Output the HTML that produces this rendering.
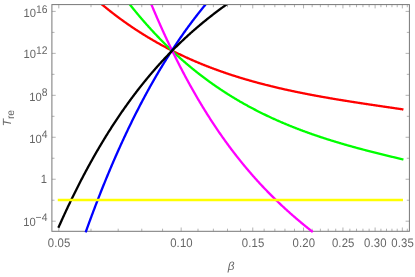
<!DOCTYPE html>
<html><head><meta charset="utf-8"><title>plot</title>
<style>html,body{margin:0;padding:0;background:#fff;}body{width:415px;height:277px;overflow:hidden;position:relative;font-family:"Liberation Sans",sans-serif;}</style>
</head><body>
<svg width="415" height="277" viewBox="0 0 415 277" style="position:absolute;left:0;top:0;will-change:transform">
<rect width="415" height="277" fill="#fff"/>
<path d="M58.80 231.3 v-3.8 M58.80 4.6 v3.8 M90.99 231.3 v-2.6 M90.99 4.6 v2.6 M118.20 231.3 v-2.6 M118.20 4.6 v2.6 M141.77 231.3 v-2.6 M141.77 4.6 v2.6 M162.57 231.3 v-2.6 M162.57 4.6 v2.6 M181.17 231.3 v-3.8 M181.17 4.6 v3.8 M197.99 231.3 v-2.6 M197.99 4.6 v2.6 M213.36 231.3 v-2.6 M213.36 4.6 v2.6 M227.49 231.3 v-2.6 M227.49 4.6 v2.6 M240.57 231.3 v-2.6 M240.57 4.6 v2.6 M252.75 231.3 v-3.8 M252.75 4.6 v3.8 M264.14 231.3 v-2.6 M264.14 4.6 v2.6 M274.85 231.3 v-2.6 M274.85 4.6 v2.6 M284.94 231.3 v-2.6 M284.94 4.6 v2.6 M294.48 231.3 v-2.6 M294.48 4.6 v2.6 M303.54 231.3 v-3.8 M303.54 4.6 v3.8 M312.15 231.3 v-2.6 M312.15 4.6 v2.6 M320.36 231.3 v-2.6 M320.36 4.6 v2.6 M328.21 231.3 v-2.6 M328.21 4.6 v2.6 M335.72 231.3 v-2.6 M335.72 4.6 v2.6 M342.93 231.3 v-3.8 M342.93 4.6 v3.8 M349.86 231.3 v-2.6 M349.86 4.6 v2.6 M356.52 231.3 v-2.6 M356.52 4.6 v2.6 M362.94 231.3 v-2.6 M362.94 4.6 v2.6 M369.13 231.3 v-2.6 M369.13 4.6 v2.6 M375.12 231.3 v-3.8 M375.12 4.6 v3.8 M380.91 231.3 v-2.6 M380.91 4.6 v2.6 M386.51 231.3 v-2.6 M386.51 4.6 v2.6 M391.94 231.3 v-2.6 M391.94 4.6 v2.6 M397.21 231.3 v-2.6 M397.21 4.6 v2.6 M402.33 231.3 v-3.8 M402.33 4.6 v3.8 M407.31 231.3 v-2.6 M407.31 4.6 v2.6 M51.9 221.20 h3.8 M409.4 221.20 h-3.8 M51.9 200.22 h2.6 M409.4 200.22 h-2.6 M51.9 179.24 h3.8 M409.4 179.24 h-3.8 M51.9 158.26 h2.6 M409.4 158.26 h-2.6 M51.9 137.28 h3.8 M409.4 137.28 h-3.8 M51.9 116.30 h2.6 M409.4 116.30 h-2.6 M51.9 95.32 h3.8 M409.4 95.32 h-3.8 M51.9 74.34 h2.6 M409.4 74.34 h-2.6 M51.9 53.36 h3.8 M409.4 53.36 h-3.8 M51.9 32.38 h2.6 M409.4 32.38 h-2.6 M51.9 11.40 h3.8 M409.4 11.40 h-3.8" stroke="#666" stroke-width="0.5" fill="none"/>
<rect x="51.9" y="4.6" width="357.50" height="226.70" fill="none" stroke="#777" stroke-width="1.0"/>
<defs><clipPath id="pc"><rect x="51.9" y="5.00" width="357.50" height="234.70"/></clipPath></defs>
<g clip-path="url(#pc)" fill="none" stroke-linejoin="round" stroke-linecap="square">
<path d="M98.55 1.60 L98.80 1.82 L99.30 2.24 L99.80 2.67 L100.30 3.09 L100.80 3.51 L101.30 3.93 L101.80 4.35 L102.30 4.76 L102.80 5.18 L103.30 5.59 L103.80 6.00 L104.30 6.41 L104.80 6.82 L105.30 7.23 L105.80 7.64 L106.30 8.04 L106.80 8.45 L107.30 8.85 L107.80 9.25 L108.30 9.65 L108.80 10.05 L109.30 10.44 L109.80 10.84 L110.30 11.23 L110.80 11.63 L111.30 12.02 L111.80 12.41 L112.30 12.80 L112.80 13.18 L113.30 13.57 L113.80 13.95 L114.30 14.34 L114.80 14.72 L115.30 15.10 L115.80 15.48 L116.30 15.86 L116.80 16.23 L117.30 16.61 L117.80 16.98 L118.30 17.35 L118.80 17.73 L119.30 18.10 L119.80 18.46 L120.30 18.83 L120.80 19.20 L121.30 19.56 L121.80 19.93 L122.30 20.29 L122.80 20.65 L123.30 21.01 L123.80 21.37 L124.30 21.72 L124.80 22.08 L125.30 22.44 L125.80 22.79 L126.30 23.14 L126.80 23.49 L127.30 23.84 L127.80 24.19 L128.30 24.54 L128.80 24.88 L129.30 25.23 L129.80 25.57 L130.30 25.91 L130.80 26.25 L131.30 26.59 L131.80 26.93 L132.30 27.27 L132.80 27.61 L133.30 27.94 L133.80 28.28 L134.30 28.61 L134.80 28.94 L135.30 29.27 L135.80 29.60 L136.30 29.93 L136.80 30.26 L137.30 30.58 L137.80 30.91 L138.30 31.23 L138.80 31.55 L139.30 31.87 L139.80 32.19 L140.30 32.51 L140.80 32.83 L141.30 33.15 L141.80 33.46 L142.30 33.78 L142.80 34.09 L143.30 34.40 L143.80 34.71 L144.30 35.02 L144.80 35.33 L145.30 35.64 L145.80 35.95 L146.30 36.25 L146.80 36.55 L147.30 36.86 L147.80 37.16 L148.30 37.46 L148.80 37.76 L149.30 38.06 L149.80 38.36 L150.30 38.66 L150.80 38.95 L151.30 39.25 L151.80 39.54 L152.30 39.83 L152.80 40.12 L153.30 40.41 L153.80 40.70 L154.30 40.99 L154.80 41.28 L155.30 41.57 L155.80 41.85 L156.30 42.14 L156.80 42.42 L157.30 42.70 L157.80 42.98 L158.30 43.26 L158.80 43.54 L159.30 43.82 L159.80 44.10 L160.30 44.37 L160.80 44.65 L161.30 44.92 L161.80 45.20 L162.30 45.47 L162.80 45.74 L163.30 46.01 L163.80 46.28 L164.30 46.55 L164.80 46.81 L165.30 47.08 L165.80 47.35 L166.30 47.61 L166.80 47.87 L167.30 48.14 L167.80 48.40 L168.30 48.66 L168.80 48.92 L169.30 49.18 L169.80 49.43 L170.30 49.69 L170.80 49.95 L171.30 50.20 L171.80 50.46 L172.30 50.71 L172.80 50.96 L173.30 51.21 L173.80 51.46 L174.30 51.71 L174.80 51.96 L175.30 52.21 L175.80 52.45 L176.30 52.70 L176.80 52.95 L177.30 53.19 L177.80 53.43 L178.30 53.67 L178.80 53.92 L179.30 54.16 L179.80 54.40 L180.30 54.63 L180.80 54.87 L181.30 55.11 L181.80 55.35 L182.30 55.58 L182.80 55.81 L183.30 56.05 L183.80 56.28 L184.30 56.51 L184.80 56.74 L185.30 56.97 L185.80 57.20 L186.30 57.43 L186.80 57.66 L187.30 57.89 L187.80 58.11 L188.30 58.34 L188.80 58.56 L189.30 58.78 L189.80 59.01 L190.30 59.23 L190.80 59.45 L191.30 59.67 L191.80 59.89 L192.30 60.11 L192.80 60.33 L193.30 60.54 L193.80 60.76 L194.30 60.97 L194.80 61.19 L195.30 61.40 L195.80 61.62 L196.30 61.83 L196.80 62.04 L197.30 62.25 L197.80 62.46 L198.30 62.67 L198.80 62.88 L199.30 63.08 L199.80 63.29 L200.30 63.50 L200.80 63.70 L201.30 63.91 L201.80 64.11 L202.30 64.31 L202.80 64.52 L203.30 64.72 L203.80 64.92 L204.30 65.12 L204.80 65.32 L205.30 65.52 L205.80 65.71 L206.30 65.91 L206.80 66.11 L207.30 66.30 L207.80 66.50 L208.30 66.69 L208.80 66.89 L209.30 67.08 L209.80 67.27 L210.30 67.46 L210.80 67.65 L211.30 67.84 L211.80 68.03 L212.30 68.22 L212.80 68.41 L213.30 68.59 L213.80 68.78 L214.30 68.97 L214.80 69.15 L215.30 69.34 L215.80 69.52 L216.30 69.70 L216.80 69.89 L217.30 70.07 L217.80 70.25 L218.30 70.43 L218.80 70.61 L219.30 70.79 L219.80 70.97 L220.30 71.14 L220.80 71.32 L221.30 71.50 L221.80 71.67 L222.30 71.85 L222.80 72.02 L223.30 72.20 L223.80 72.37 L224.30 72.54 L224.80 72.71 L225.30 72.88 L225.80 73.05 L226.30 73.22 L226.80 73.39 L227.30 73.56 L227.80 73.73 L228.30 73.90 L228.80 74.07 L229.30 74.23 L229.80 74.40 L230.30 74.56 L230.80 74.73 L231.30 74.89 L231.80 75.05 L232.30 75.22 L232.80 75.38 L233.30 75.54 L233.80 75.70 L234.30 75.86 L234.80 76.02 L235.30 76.18 L235.80 76.34 L236.30 76.50 L236.80 76.65 L237.30 76.81 L237.80 76.97 L238.30 77.12 L238.80 77.28 L239.30 77.43 L239.80 77.58 L240.30 77.74 L240.80 77.89 L241.30 78.04 L241.80 78.19 L242.30 78.35 L242.80 78.50 L243.30 78.65 L243.80 78.80 L244.30 78.94 L244.80 79.09 L245.30 79.24 L245.80 79.39 L246.30 79.53 L246.80 79.68 L247.30 79.83 L247.80 79.97 L248.30 80.12 L248.80 80.26 L249.30 80.40 L249.80 80.55 L250.30 80.69 L250.80 80.83 L251.30 80.97 L251.80 81.11 L252.30 81.25 L252.80 81.39 L253.30 81.53 L253.80 81.67 L254.30 81.81 L254.80 81.95 L255.30 82.09 L255.80 82.22 L256.30 82.36 L256.80 82.50 L257.30 82.63 L257.80 82.77 L258.30 82.90 L258.80 83.04 L259.30 83.17 L259.80 83.30 L260.30 83.43 L260.80 83.57 L261.30 83.70 L261.80 83.83 L262.30 83.96 L262.80 84.09 L263.30 84.22 L263.80 84.35 L264.30 84.48 L264.80 84.61 L265.30 84.74 L265.80 84.86 L266.30 84.99 L266.80 85.12 L267.30 85.24 L267.80 85.37 L268.30 85.49 L268.80 85.62 L269.30 85.74 L269.80 85.87 L270.30 85.99 L270.80 86.11 L271.30 86.24 L271.80 86.36 L272.30 86.48 L272.80 86.60 L273.30 86.72 L273.80 86.84 L274.30 86.96 L274.80 87.08 L275.30 87.20 L275.80 87.32 L276.30 87.44 L276.80 87.56 L277.30 87.68 L277.80 87.79 L278.30 87.91 L278.80 88.03 L279.30 88.14 L279.80 88.26 L280.30 88.37 L280.80 88.49 L281.30 88.60 L281.80 88.72 L282.30 88.83 L282.80 88.95 L283.30 89.06 L283.80 89.17 L284.30 89.28 L284.80 89.40 L285.30 89.51 L285.80 89.62 L286.30 89.73 L286.80 89.84 L287.30 89.95 L287.80 90.06 L288.30 90.17 L288.80 90.28 L289.30 90.39 L289.80 90.49 L290.30 90.60 L290.80 90.71 L291.30 90.82 L291.80 90.92 L292.30 91.03 L292.80 91.14 L293.30 91.24 L293.80 91.35 L294.30 91.45 L294.80 91.56 L295.30 91.66 L295.80 91.77 L296.30 91.87 L296.80 91.97 L297.30 92.08 L297.80 92.18 L298.30 92.28 L298.80 92.38 L299.30 92.49 L299.80 92.59 L300.30 92.69 L300.80 92.79 L301.30 92.89 L301.80 92.99 L302.30 93.09 L302.80 93.19 L303.30 93.29 L303.80 93.39 L304.30 93.49 L304.80 93.59 L305.30 93.69 L305.80 93.78 L306.30 93.88 L306.80 93.98 L307.30 94.07 L307.80 94.17 L308.30 94.27 L308.80 94.36 L309.30 94.46 L309.80 94.56 L310.30 94.65 L310.80 94.75 L311.30 94.84 L311.80 94.94 L312.30 95.03 L312.80 95.12 L313.30 95.22 L313.80 95.31 L314.30 95.40 L314.80 95.50 L315.30 95.59 L315.80 95.68 L316.30 95.77 L316.80 95.87 L317.30 95.96 L317.80 96.05 L318.30 96.14 L318.80 96.23 L319.30 96.32 L319.80 96.41 L320.30 96.50 L320.80 96.59 L321.30 96.68 L321.80 96.77 L322.30 96.86 L322.80 96.95 L323.30 97.04 L323.80 97.13 L324.30 97.22 L324.80 97.30 L325.30 97.39 L325.80 97.48 L326.30 97.57 L326.80 97.65 L327.30 97.74 L327.80 97.83 L328.30 97.91 L328.80 98.00 L329.30 98.09 L329.80 98.17 L330.30 98.26 L330.80 98.34 L331.30 98.43 L331.80 98.51 L332.30 98.60 L332.80 98.68 L333.30 98.77 L333.80 98.85 L334.30 98.94 L334.80 99.02 L335.30 99.10 L335.80 99.19 L336.30 99.27 L336.80 99.35 L337.30 99.44 L337.80 99.52 L338.30 99.60 L338.80 99.68 L339.30 99.77 L339.80 99.85 L340.30 99.93 L340.80 100.01 L341.30 100.09 L341.80 100.18 L342.30 100.26 L342.80 100.34 L343.30 100.42 L343.80 100.50 L344.30 100.58 L344.80 100.66 L345.30 100.74 L345.80 100.82 L346.30 100.90 L346.80 100.98 L347.30 101.06 L347.80 101.14 L348.30 101.22 L348.80 101.30 L349.30 101.38 L349.80 101.46 L350.30 101.54 L350.80 101.61 L351.30 101.69 L351.80 101.77 L352.30 101.85 L352.80 101.93 L353.30 102.01 L353.80 102.08 L354.30 102.16 L354.80 102.24 L355.30 102.32 L355.80 102.39 L356.30 102.47 L356.80 102.55 L357.30 102.63 L357.80 102.70 L358.30 102.78 L358.80 102.86 L359.30 102.93 L359.80 103.01 L360.30 103.09 L360.80 103.16 L361.30 103.24 L361.80 103.31 L362.30 103.39 L362.80 103.47 L363.30 103.54 L363.80 103.62 L364.30 103.69 L364.80 103.77 L365.30 103.84 L365.80 103.92 L366.30 104.00 L366.80 104.07 L367.30 104.15 L367.80 104.22 L368.30 104.30 L368.80 104.37 L369.30 104.45 L369.80 104.52 L370.30 104.59 L370.80 104.67 L371.30 104.74 L371.80 104.82 L372.30 104.89 L372.80 104.97 L373.30 105.04 L373.80 105.12 L374.30 105.19 L374.80 105.26 L375.30 105.34 L375.80 105.41 L376.30 105.49 L376.80 105.56 L377.30 105.63 L377.80 105.71 L378.30 105.78 L378.80 105.86 L379.30 105.93 L379.80 106.00 L380.30 106.08 L380.80 106.15 L381.30 106.22 L381.80 106.30 L382.30 106.37 L382.80 106.44 L383.30 106.52 L383.80 106.59 L384.30 106.66 L384.80 106.74 L385.30 106.81 L385.80 106.88 L386.30 106.96 L386.80 107.03 L387.30 107.10 L387.80 107.18 L388.30 107.25 L388.80 107.32 L389.30 107.40 L389.80 107.47 L390.30 107.54 L390.80 107.62 L391.30 107.69 L391.80 107.76 L392.30 107.84 L392.80 107.91 L393.30 107.98 L393.80 108.06 L394.30 108.13 L394.80 108.20 L395.30 108.28 L395.80 108.35 L396.30 108.42 L396.80 108.50 L397.30 108.57 L397.80 108.64 L398.30 108.72 L398.80 108.79 L399.30 108.86 L399.80 108.94 L400.30 109.01 L400.80 109.08 L401.30 109.16 L401.80 109.23 L402.30 109.30 L402.33 109.31" stroke="#ff0000" stroke-width="2.3"/>
<path d="M127.58 1.60 L127.80 1.88 L128.30 2.52 L128.80 3.16 L129.30 3.79 L129.80 4.43 L130.30 5.06 L130.80 5.69 L131.30 6.31 L131.80 6.94 L132.30 7.56 L132.80 8.18 L133.30 8.80 L133.80 9.41 L134.30 10.03 L134.80 10.64 L135.30 11.25 L135.80 11.86 L136.30 12.46 L136.80 13.07 L137.30 13.67 L137.80 14.27 L138.30 14.87 L138.80 15.46 L139.30 16.05 L139.80 16.64 L140.30 17.23 L140.80 17.82 L141.30 18.41 L141.80 18.99 L142.30 19.57 L142.80 20.15 L143.30 20.73 L143.80 21.30 L144.30 21.87 L144.80 22.45 L145.30 23.02 L145.80 23.58 L146.30 24.15 L146.80 24.71 L147.30 25.27 L147.80 25.83 L148.30 26.39 L148.80 26.94 L149.30 27.50 L149.80 28.05 L150.30 28.60 L150.80 29.15 L151.30 29.69 L151.80 30.24 L152.30 30.78 L152.80 31.32 L153.30 31.86 L153.80 32.39 L154.30 32.93 L154.80 33.46 L155.30 33.99 L155.80 34.52 L156.30 35.05 L156.80 35.58 L157.30 36.10 L157.80 36.62 L158.30 37.14 L158.80 37.66 L159.30 38.18 L159.80 38.69 L160.30 39.20 L160.80 39.71 L161.30 40.22 L161.80 40.73 L162.30 41.24 L162.80 41.74 L163.30 42.24 L163.80 42.74 L164.30 43.24 L164.80 43.74 L165.30 44.23 L165.80 44.73 L166.30 45.22 L166.80 45.71 L167.30 46.20 L167.80 46.68 L168.30 47.17 L168.80 47.65 L169.30 48.13 L169.80 48.61 L170.30 49.09 L170.80 49.57 L171.30 50.04 L171.80 50.51 L172.30 50.98 L172.80 51.45 L173.30 51.92 L173.80 52.39 L174.30 52.85 L174.80 53.32 L175.30 53.78 L175.80 54.24 L176.30 54.70 L176.80 55.15 L177.30 55.61 L177.80 56.06 L178.30 56.51 L178.80 56.96 L179.30 57.41 L179.80 57.86 L180.30 58.30 L180.80 58.75 L181.30 59.19 L181.80 59.63 L182.30 60.07 L182.80 60.51 L183.30 60.94 L183.80 61.38 L184.30 61.81 L184.80 62.24 L185.30 62.67 L185.80 63.10 L186.30 63.53 L186.80 63.95 L187.30 64.38 L187.80 64.80 L188.30 65.22 L188.80 65.64 L189.30 66.06 L189.80 66.47 L190.30 66.89 L190.80 67.30 L191.30 67.71 L191.80 68.12 L192.30 68.53 L192.80 68.94 L193.30 69.34 L193.80 69.75 L194.30 70.15 L194.80 70.55 L195.30 70.95 L195.80 71.35 L196.30 71.75 L196.80 72.15 L197.30 72.54 L197.80 72.93 L198.30 73.33 L198.80 73.72 L199.30 74.11 L199.80 74.49 L200.30 74.88 L200.80 75.26 L201.30 75.65 L201.80 76.03 L202.30 76.41 L202.80 76.79 L203.30 77.17 L203.80 77.54 L204.30 77.92 L204.80 78.29 L205.30 78.67 L205.80 79.04 L206.30 79.41 L206.80 79.78 L207.30 80.14 L207.80 80.51 L208.30 80.87 L208.80 81.24 L209.30 81.60 L209.80 81.96 L210.30 82.32 L210.80 82.68 L211.30 83.03 L211.80 83.39 L212.30 83.74 L212.80 84.10 L213.30 84.45 L213.80 84.80 L214.30 85.15 L214.80 85.50 L215.30 85.84 L215.80 86.19 L216.30 86.53 L216.80 86.88 L217.30 87.22 L217.80 87.56 L218.30 87.90 L218.80 88.24 L219.30 88.57 L219.80 88.91 L220.30 89.24 L220.80 89.58 L221.30 89.91 L221.80 90.24 L222.30 90.57 L222.80 90.90 L223.30 91.22 L223.80 91.55 L224.30 91.87 L224.80 92.20 L225.30 92.52 L225.80 92.84 L226.30 93.16 L226.80 93.48 L227.30 93.80 L227.80 94.12 L228.30 94.43 L228.80 94.75 L229.30 95.06 L229.80 95.37 L230.30 95.68 L230.80 95.99 L231.30 96.30 L231.80 96.61 L232.30 96.92 L232.80 97.22 L233.30 97.53 L233.80 97.83 L234.30 98.13 L234.80 98.43 L235.30 98.73 L235.80 99.03 L236.30 99.33 L236.80 99.63 L237.30 99.92 L237.80 100.22 L238.30 100.51 L238.80 100.80 L239.30 101.09 L239.80 101.39 L240.30 101.67 L240.80 101.96 L241.30 102.25 L241.80 102.54 L242.30 102.82 L242.80 103.11 L243.30 103.39 L243.80 103.67 L244.30 103.95 L244.80 104.23 L245.30 104.51 L245.80 104.79 L246.30 105.07 L246.80 105.34 L247.30 105.62 L247.80 105.89 L248.30 106.17 L248.80 106.44 L249.30 106.71 L249.80 106.98 L250.30 107.25 L250.80 107.52 L251.30 107.78 L251.80 108.05 L252.30 108.32 L252.80 108.58 L253.30 108.84 L253.80 109.11 L254.30 109.37 L254.80 109.63 L255.30 109.89 L255.80 110.15 L256.30 110.40 L256.80 110.66 L257.30 110.92 L257.80 111.17 L258.30 111.43 L258.80 111.68 L259.30 111.93 L259.80 112.18 L260.30 112.43 L260.80 112.68 L261.30 112.93 L261.80 113.18 L262.30 113.43 L262.80 113.67 L263.30 113.92 L263.80 114.16 L264.30 114.41 L264.80 114.65 L265.30 114.89 L265.80 115.13 L266.30 115.37 L266.80 115.61 L267.30 115.85 L267.80 116.09 L268.30 116.32 L268.80 116.56 L269.30 116.79 L269.80 117.03 L270.30 117.26 L270.80 117.49 L271.30 117.73 L271.80 117.96 L272.30 118.19 L272.80 118.42 L273.30 118.64 L273.80 118.87 L274.30 119.10 L274.80 119.32 L275.30 119.55 L275.80 119.77 L276.30 120.00 L276.80 120.22 L277.30 120.44 L277.80 120.66 L278.30 120.88 L278.80 121.10 L279.30 121.32 L279.80 121.54 L280.30 121.76 L280.80 121.97 L281.30 122.19 L281.80 122.40 L282.30 122.62 L282.80 122.83 L283.30 123.05 L283.80 123.26 L284.30 123.47 L284.80 123.68 L285.30 123.89 L285.80 124.10 L286.30 124.31 L286.80 124.51 L287.30 124.72 L287.80 124.93 L288.30 125.13 L288.80 125.34 L289.30 125.54 L289.80 125.75 L290.30 125.95 L290.80 126.15 L291.30 126.35 L291.80 126.55 L292.30 126.75 L292.80 126.95 L293.30 127.15 L293.80 127.35 L294.30 127.55 L294.80 127.74 L295.30 127.94 L295.80 128.13 L296.30 128.33 L296.80 128.52 L297.30 128.72 L297.80 128.91 L298.30 129.10 L298.80 129.29 L299.30 129.48 L299.80 129.67 L300.30 129.86 L300.80 130.05 L301.30 130.24 L301.80 130.43 L302.30 130.61 L302.80 130.80 L303.30 130.99 L303.80 131.17 L304.30 131.35 L304.80 131.54 L305.30 131.72 L305.80 131.90 L306.30 132.09 L306.80 132.27 L307.30 132.45 L307.80 132.63 L308.30 132.81 L308.80 132.99 L309.30 133.17 L309.80 133.34 L310.30 133.52 L310.80 133.70 L311.30 133.87 L311.80 134.05 L312.30 134.22 L312.80 134.40 L313.30 134.57 L313.80 134.75 L314.30 134.92 L314.80 135.09 L315.30 135.26 L315.80 135.43 L316.30 135.60 L316.80 135.77 L317.30 135.94 L317.80 136.11 L318.30 136.28 L318.80 136.45 L319.30 136.62 L319.80 136.78 L320.30 136.95 L320.80 137.12 L321.30 137.28 L321.80 137.45 L322.30 137.61 L322.80 137.77 L323.30 137.94 L323.80 138.10 L324.30 138.26 L324.80 138.42 L325.30 138.59 L325.80 138.75 L326.30 138.91 L326.80 139.07 L327.30 139.23 L327.80 139.39 L328.30 139.54 L328.80 139.70 L329.30 139.86 L329.80 140.02 L330.30 140.17 L330.80 140.33 L331.30 140.48 L331.80 140.64 L332.30 140.79 L332.80 140.95 L333.30 141.10 L333.80 141.26 L334.30 141.41 L334.80 141.56 L335.30 141.71 L335.80 141.87 L336.30 142.02 L336.80 142.17 L337.30 142.32 L337.80 142.47 L338.30 142.62 L338.80 142.77 L339.30 142.91 L339.80 143.06 L340.30 143.21 L340.80 143.36 L341.30 143.51 L341.80 143.65 L342.30 143.80 L342.80 143.94 L343.30 144.09 L343.80 144.24 L344.30 144.38 L344.80 144.52 L345.30 144.67 L345.80 144.81 L346.30 144.95 L346.80 145.10 L347.30 145.24 L347.80 145.38 L348.30 145.52 L348.80 145.67 L349.30 145.81 L349.80 145.95 L350.30 146.09 L350.80 146.23 L351.30 146.37 L351.80 146.51 L352.30 146.65 L352.80 146.78 L353.30 146.92 L353.80 147.06 L354.30 147.20 L354.80 147.33 L355.30 147.47 L355.80 147.61 L356.30 147.74 L356.80 147.88 L357.30 148.02 L357.80 148.15 L358.30 148.29 L358.80 148.42 L359.30 148.56 L359.80 148.69 L360.30 148.82 L360.80 148.96 L361.30 149.09 L361.80 149.22 L362.30 149.36 L362.80 149.49 L363.30 149.62 L363.80 149.75 L364.30 149.88 L364.80 150.01 L365.30 150.15 L365.80 150.28 L366.30 150.41 L366.80 150.54 L367.30 150.67 L367.80 150.80 L368.30 150.93 L368.80 151.05 L369.30 151.18 L369.80 151.31 L370.30 151.44 L370.80 151.57 L371.30 151.70 L371.80 151.82 L372.30 151.95 L372.80 152.08 L373.30 152.20 L373.80 152.33 L374.30 152.46 L374.80 152.58 L375.30 152.71 L375.80 152.84 L376.30 152.96 L376.80 153.09 L377.30 153.21 L377.80 153.34 L378.30 153.46 L378.80 153.59 L379.30 153.71 L379.80 153.83 L380.30 153.96 L380.80 154.08 L381.30 154.20 L381.80 154.33 L382.30 154.45 L382.80 154.57 L383.30 154.70 L383.80 154.82 L384.30 154.94 L384.80 155.06 L385.30 155.19 L385.80 155.31 L386.30 155.43 L386.80 155.55 L387.30 155.67 L387.80 155.79 L388.30 155.91 L388.80 156.03 L389.30 156.16 L389.80 156.28 L390.30 156.40 L390.80 156.52 L391.30 156.64 L391.80 156.76 L392.30 156.88 L392.80 157.00 L393.30 157.12 L393.80 157.24 L394.30 157.35 L394.80 157.47 L395.30 157.59 L395.80 157.71 L396.30 157.83 L396.80 157.95 L397.30 158.07 L397.80 158.19 L398.30 158.30 L398.80 158.42 L399.30 158.54 L399.80 158.66 L400.30 158.78 L400.80 158.89 L401.30 159.01 L401.80 159.13 L402.30 159.25 L402.33 159.26" stroke="#00ff00" stroke-width="2.3"/>
<path d="M150.19 1.60 L150.30 1.86 L150.80 3.07 L151.30 4.27 L151.80 5.47 L152.30 6.66 L152.80 7.85 L153.30 9.03 L153.80 10.21 L154.30 11.38 L154.80 12.56 L155.30 13.72 L155.80 14.88 L156.30 16.04 L156.80 17.20 L157.30 18.35 L157.80 19.49 L158.30 20.63 L158.80 21.77 L159.30 22.90 L159.80 24.03 L160.30 25.16 L160.80 26.28 L161.30 27.39 L161.80 28.51 L162.30 29.61 L162.80 30.72 L163.30 31.82 L163.80 32.91 L164.30 34.01 L164.80 35.09 L165.30 36.18 L165.80 37.26 L166.30 38.34 L166.80 39.41 L167.30 40.48 L167.80 41.54 L168.30 42.60 L168.80 43.66 L169.30 44.71 L169.80 45.76 L170.30 46.80 L170.80 47.84 L171.30 48.88 L171.80 49.92 L172.30 50.95 L172.80 51.97 L173.30 52.99 L173.80 54.01 L174.30 55.03 L174.80 56.04 L175.30 57.04 L175.80 58.05 L176.30 59.05 L176.80 60.04 L177.30 61.04 L177.80 62.02 L178.30 63.01 L178.80 63.99 L179.30 64.97 L179.80 65.94 L180.30 66.91 L180.80 67.88 L181.30 68.84 L181.80 69.80 L182.30 70.76 L182.80 71.71 L183.30 72.66 L183.80 73.61 L184.30 74.55 L184.80 75.49 L185.30 76.42 L185.80 77.36 L186.30 78.28 L186.80 79.21 L187.30 80.13 L187.80 81.05 L188.30 81.96 L188.80 82.88 L189.30 83.78 L189.80 84.69 L190.30 85.59 L190.80 86.49 L191.30 87.38 L191.80 88.27 L192.30 89.16 L192.80 90.05 L193.30 90.93 L193.80 91.80 L194.30 92.68 L194.80 93.55 L195.30 94.42 L195.80 95.28 L196.30 96.15 L196.80 97.01 L197.30 97.86 L197.80 98.71 L198.30 99.56 L198.80 100.41 L199.30 101.25 L199.80 102.09 L200.30 102.93 L200.80 103.76 L201.30 104.59 L201.80 105.42 L202.30 106.24 L202.80 107.07 L203.30 107.88 L203.80 108.70 L204.30 109.51 L204.80 110.32 L205.30 111.13 L205.80 111.93 L206.30 112.73 L206.80 113.53 L207.30 114.32 L207.80 115.11 L208.30 115.90 L208.80 116.69 L209.30 117.47 L209.80 118.25 L210.30 119.03 L210.80 119.80 L211.30 120.57 L211.80 121.34 L212.30 122.11 L212.80 122.87 L213.30 123.63 L213.80 124.39 L214.30 125.14 L214.80 125.89 L215.30 126.64 L215.80 127.39 L216.30 128.13 L216.80 128.87 L217.30 129.61 L217.80 130.34 L218.30 131.07 L218.80 131.80 L219.30 132.53 L219.80 133.25 L220.30 133.98 L220.80 134.69 L221.30 135.41 L221.80 136.12 L222.30 136.83 L222.80 137.54 L223.30 138.25 L223.80 138.95 L224.30 139.65 L224.80 140.35 L225.30 141.05 L225.80 141.74 L226.30 142.43 L226.80 143.12 L227.30 143.80 L227.80 144.48 L228.30 145.16 L228.80 145.84 L229.30 146.52 L229.80 147.19 L230.30 147.86 L230.80 148.53 L231.30 149.19 L231.80 149.86 L232.30 150.52 L232.80 151.17 L233.30 151.83 L233.80 152.48 L234.30 153.13 L234.80 153.78 L235.30 154.43 L235.80 155.07 L236.30 155.71 L236.80 156.35 L237.30 156.99 L237.80 157.63 L238.30 158.26 L238.80 158.89 L239.30 159.52 L239.80 160.14 L240.30 160.76 L240.80 161.38 L241.30 162.00 L241.80 162.62 L242.30 163.23 L242.80 163.85 L243.30 164.46 L243.80 165.06 L244.30 165.67 L244.80 166.27 L245.30 166.87 L245.80 167.47 L246.30 168.07 L246.80 168.66 L247.30 169.26 L247.80 169.85 L248.30 170.44 L248.80 171.02 L249.30 171.61 L249.80 172.19 L250.30 172.77 L250.80 173.35 L251.30 173.92 L251.80 174.50 L252.30 175.07 L252.80 175.64 L253.30 176.21 L253.80 176.77 L254.30 177.34 L254.80 177.90 L255.30 178.46 L255.80 179.01 L256.30 179.57 L256.80 180.12 L257.30 180.68 L257.80 181.23 L258.30 181.78 L258.80 182.32 L259.30 182.87 L259.80 183.41 L260.30 183.95 L260.80 184.49 L261.30 185.03 L261.80 185.56 L262.30 186.09 L262.80 186.63 L263.30 187.15 L263.80 187.68 L264.30 188.21 L264.80 188.73 L265.30 189.26 L265.80 189.78 L266.30 190.29 L266.80 190.81 L267.30 191.33 L267.80 191.84 L268.30 192.35 L268.80 192.86 L269.30 193.37 L269.80 193.88 L270.30 194.38 L270.80 194.89 L271.30 195.39 L271.80 195.89 L272.30 196.39 L272.80 196.88 L273.30 197.38 L273.80 197.87 L274.30 198.36 L274.80 198.85 L275.30 199.34 L275.80 199.83 L276.30 200.31 L276.80 200.80 L277.30 201.28 L277.80 201.76 L278.30 202.24 L278.80 202.72 L279.30 203.19 L279.80 203.67 L280.30 204.14 L280.80 204.61 L281.30 205.08 L281.80 205.55 L282.30 206.02 L282.80 206.48 L283.30 206.95 L283.80 207.41 L284.30 207.87 L284.80 208.33 L285.30 208.79 L285.80 209.25 L286.30 209.70 L286.80 210.16 L287.30 210.61 L287.80 211.06 L288.30 211.51 L288.80 211.96 L289.30 212.40 L289.80 212.85 L290.30 213.29 L290.80 213.74 L291.30 214.18 L291.80 214.62 L292.30 215.06 L292.80 215.50 L293.30 215.93 L293.80 216.37 L294.30 216.80 L294.80 217.23 L295.30 217.67 L295.80 218.10 L296.30 218.52 L296.80 218.95 L297.30 219.38 L297.80 219.80 L298.30 220.23 L298.80 220.65 L299.30 221.07 L299.80 221.49 L300.30 221.91 L300.80 222.33 L301.30 222.75 L301.80 223.16 L302.30 223.58 L302.80 223.99 L303.30 224.40 L303.80 224.81 L304.30 225.22 L304.80 225.63 L305.30 226.04 L305.80 226.44 L306.30 226.85 L306.80 227.25 L307.30 227.66 L307.80 228.06 L308.30 228.46 L308.80 228.86 L309.30 229.26 L309.80 229.66 L310.30 230.06 L310.80 230.45 L311.30 230.85 L311.80 231.24 L311.87 231.30" stroke="#ff00ff" stroke-width="2.3"/>
<path d="M86.01 231.30 L86.30 230.49 L86.80 229.10 L87.30 227.72 L87.80 226.34 L88.30 224.96 L88.80 223.59 L89.30 222.22 L89.80 220.86 L90.30 219.50 L90.80 218.15 L91.30 216.80 L91.80 215.46 L92.30 214.12 L92.80 212.78 L93.30 211.45 L93.80 210.13 L94.30 208.81 L94.80 207.49 L95.30 206.18 L95.80 204.87 L96.30 203.57 L96.80 202.27 L97.30 200.97 L97.80 199.68 L98.30 198.40 L98.80 197.12 L99.30 195.84 L99.80 194.57 L100.30 193.30 L100.80 192.04 L101.30 190.78 L101.80 189.52 L102.30 188.27 L102.80 187.02 L103.30 185.78 L103.80 184.54 L104.30 183.31 L104.80 182.08 L105.30 180.85 L105.80 179.63 L106.30 178.42 L106.80 177.20 L107.30 176.00 L107.80 174.79 L108.30 173.59 L108.80 172.39 L109.30 171.20 L109.80 170.01 L110.30 168.83 L110.80 167.65 L111.30 166.48 L111.80 165.30 L112.30 164.14 L112.80 162.97 L113.30 161.81 L113.80 160.66 L114.30 159.51 L114.80 158.36 L115.30 157.21 L115.80 156.07 L116.30 154.94 L116.80 153.81 L117.30 152.68 L117.80 151.55 L118.30 150.43 L118.80 149.32 L119.30 148.21 L119.80 147.10 L120.30 145.99 L120.80 144.89 L121.30 143.79 L121.80 142.70 L122.30 141.61 L122.80 140.53 L123.30 139.44 L123.80 138.37 L124.30 137.29 L124.80 136.22 L125.30 135.15 L125.80 134.09 L126.30 133.03 L126.80 131.97 L127.30 130.92 L127.80 129.87 L128.30 128.83 L128.80 127.79 L129.30 126.75 L129.80 125.72 L130.30 124.68 L130.80 123.66 L131.30 122.63 L131.80 121.61 L132.30 120.60 L132.80 119.59 L133.30 118.58 L133.80 117.57 L134.30 116.57 L134.80 115.57 L135.30 114.58 L135.80 113.58 L136.30 112.60 L136.80 111.61 L137.30 110.63 L137.80 109.65 L138.30 108.68 L138.80 107.71 L139.30 106.74 L139.80 105.77 L140.30 104.81 L140.80 103.86 L141.30 102.90 L141.80 101.95 L142.30 101.00 L142.80 100.06 L143.30 99.12 L143.80 98.18 L144.30 97.25 L144.80 96.32 L145.30 95.39 L145.80 94.46 L146.30 93.54 L146.80 92.62 L147.30 91.71 L147.80 90.80 L148.30 89.89 L148.80 88.98 L149.30 88.08 L149.80 87.18 L150.30 86.29 L150.80 85.39 L151.30 84.51 L151.80 83.62 L152.30 82.74 L152.80 81.86 L153.30 80.98 L153.80 80.11 L154.30 79.23 L154.80 78.37 L155.30 77.50 L155.80 76.64 L156.30 75.78 L156.80 74.93 L157.30 74.07 L157.80 73.22 L158.30 72.38 L158.80 71.53 L159.30 70.69 L159.80 69.86 L160.30 69.02 L160.80 68.19 L161.30 67.36 L161.80 66.54 L162.30 65.71 L162.80 64.89 L163.30 64.08 L163.80 63.26 L164.30 62.45 L164.80 61.64 L165.30 60.84 L165.80 60.03 L166.30 59.23 L166.80 58.44 L167.30 57.64 L167.80 56.85 L168.30 56.06 L168.80 55.28 L169.30 54.49 L169.80 53.71 L170.30 52.93 L170.80 52.16 L171.30 51.39 L171.80 50.62 L172.30 49.85 L172.80 49.09 L173.30 48.33 L173.80 47.57 L174.30 46.81 L174.80 46.06 L175.30 45.31 L175.80 44.56 L176.30 43.82 L176.80 43.07 L177.30 42.33 L177.80 41.60 L178.30 40.86 L178.80 40.13 L179.30 39.40 L179.80 38.67 L180.30 37.95 L180.80 37.23 L181.30 36.51 L181.80 35.79 L182.30 35.08 L182.80 34.36 L183.30 33.66 L183.80 32.95 L184.30 32.24 L184.80 31.54 L185.30 30.84 L185.80 30.15 L186.30 29.45 L186.80 28.76 L187.30 28.07 L187.80 27.39 L188.30 26.70 L188.80 26.02 L189.30 25.34 L189.80 24.66 L190.30 23.99 L190.80 23.31 L191.30 22.64 L191.80 21.98 L192.30 21.31 L192.80 20.65 L193.30 19.99 L193.80 19.33 L194.30 18.67 L194.80 18.02 L195.30 17.37 L195.80 16.72 L196.30 16.07 L196.80 15.43 L197.30 14.79 L197.80 14.15 L198.30 13.51 L198.80 12.87 L199.30 12.24 L199.80 11.61 L200.30 10.98 L200.80 10.36 L201.30 9.73 L201.80 9.11 L202.30 8.49 L202.80 7.87 L203.30 7.26 L203.80 6.64 L204.30 6.03 L204.80 5.42 L205.30 4.82 L205.80 4.21 L206.30 3.61 L206.80 3.01 L207.30 2.41 L207.80 1.81 L207.98 1.60" stroke="#0000ff" stroke-width="2.3"/>
<path d="M58.80 226.78 L59.30 225.65 L59.80 224.53 L60.30 223.41 L60.80 222.30 L61.30 221.19 L61.80 220.08 L62.30 218.98 L62.80 217.88 L63.30 216.79 L63.80 215.70 L64.30 214.61 L64.80 213.53 L65.30 212.45 L65.80 211.38 L66.30 210.30 L66.80 209.24 L67.30 208.17 L67.80 207.11 L68.30 206.05 L68.80 205.00 L69.30 203.95 L69.80 202.91 L70.30 201.86 L70.80 200.83 L71.30 199.79 L71.80 198.76 L72.30 197.73 L72.80 196.71 L73.30 195.69 L73.80 194.67 L74.30 193.66 L74.80 192.65 L75.30 191.64 L75.80 190.64 L76.30 189.64 L76.80 188.64 L77.30 187.65 L77.80 186.66 L78.30 185.67 L78.80 184.69 L79.30 183.71 L79.80 182.74 L80.30 181.77 L80.80 180.80 L81.30 179.83 L81.80 178.87 L82.30 177.91 L82.80 176.96 L83.30 176.00 L83.80 175.06 L84.30 174.11 L84.80 173.17 L85.30 172.23 L85.80 171.30 L86.30 170.36 L86.80 169.44 L87.30 168.51 L87.80 167.59 L88.30 166.67 L88.80 165.75 L89.30 164.84 L89.80 163.93 L90.30 163.03 L90.80 162.12 L91.30 161.22 L91.80 160.33 L92.30 159.44 L92.80 158.54 L93.30 157.66 L93.80 156.77 L94.30 155.89 L94.80 155.02 L95.30 154.14 L95.80 153.27 L96.30 152.40 L96.80 151.54 L97.30 150.67 L97.80 149.81 L98.30 148.96 L98.80 148.11 L99.30 147.26 L99.80 146.41 L100.30 145.56 L100.80 144.72 L101.30 143.88 L101.80 143.05 L102.30 142.22 L102.80 141.39 L103.30 140.56 L103.80 139.74 L104.30 138.92 L104.80 138.10 L105.30 137.28 L105.80 136.47 L106.30 135.66 L106.80 134.86 L107.30 134.05 L107.80 133.25 L108.30 132.46 L108.80 131.66 L109.30 130.87 L109.80 130.08 L110.30 129.29 L110.80 128.51 L111.30 127.73 L111.80 126.95 L112.30 126.18 L112.80 125.40 L113.30 124.63 L113.80 123.87 L114.30 123.10 L114.80 122.34 L115.30 121.58 L115.80 120.82 L116.30 120.07 L116.80 119.32 L117.30 118.57 L117.80 117.83 L118.30 117.08 L118.80 116.34 L119.30 115.61 L119.80 114.87 L120.30 114.14 L120.80 113.41 L121.30 112.68 L121.80 111.96 L122.30 111.23 L122.80 110.51 L123.30 109.80 L123.80 109.08 L124.30 108.37 L124.80 107.66 L125.30 106.96 L125.80 106.25 L126.30 105.55 L126.80 104.85 L127.30 104.15 L127.80 103.46 L128.30 102.77 L128.80 102.08 L129.30 101.39 L129.80 100.71 L130.30 100.02 L130.80 99.34 L131.30 98.67 L131.80 97.99 L132.30 97.32 L132.80 96.65 L133.30 95.98 L133.80 95.32 L134.30 94.65 L134.80 93.99 L135.30 93.33 L135.80 92.68 L136.30 92.02 L136.80 91.37 L137.30 90.72 L137.80 90.08 L138.30 89.43 L138.80 88.79 L139.30 88.15 L139.80 87.51 L140.30 86.88 L140.80 86.25 L141.30 85.61 L141.80 84.99 L142.30 84.36 L142.80 83.74 L143.30 83.11 L143.80 82.49 L144.30 81.88 L144.80 81.26 L145.30 80.65 L145.80 80.04 L146.30 79.43 L146.80 78.82 L147.30 78.22 L147.80 77.61 L148.30 77.01 L148.80 76.42 L149.30 75.82 L149.80 75.23 L150.30 74.63 L150.80 74.04 L151.30 73.46 L151.80 72.87 L152.30 72.29 L152.80 71.71 L153.30 71.13 L153.80 70.55 L154.30 69.97 L154.80 69.40 L155.30 68.83 L155.80 68.26 L156.30 67.69 L156.80 67.13 L157.30 66.57 L157.80 66.00 L158.30 65.44 L158.80 64.89 L159.30 64.33 L159.80 63.78 L160.30 63.23 L160.80 62.68 L161.30 62.13 L161.80 61.58 L162.30 61.04 L162.80 60.50 L163.30 59.96 L163.80 59.42 L164.30 58.88 L164.80 58.35 L165.30 57.82 L165.80 57.29 L166.30 56.76 L166.80 56.23 L167.30 55.71 L167.80 55.18 L168.30 54.66 L168.80 54.14 L169.30 53.62 L169.80 53.11 L170.30 52.59 L170.80 52.08 L171.30 51.57 L171.80 51.06 L172.30 50.56 L172.80 50.05 L173.30 49.55 L173.80 49.04 L174.30 48.54 L174.80 48.05 L175.30 47.55 L175.80 47.05 L176.30 46.56 L176.80 46.07 L177.30 45.58 L177.80 45.09 L178.30 44.60 L178.80 44.12 L179.30 43.64 L179.80 43.16 L180.30 42.68 L180.80 42.20 L181.30 41.72 L181.80 41.25 L182.30 40.77 L182.80 40.30 L183.30 39.83 L183.80 39.36 L184.30 38.89 L184.80 38.43 L185.30 37.97 L185.80 37.50 L186.30 37.04 L186.80 36.58 L187.30 36.13 L187.80 35.67 L188.30 35.22 L188.80 34.76 L189.30 34.31 L189.80 33.86 L190.30 33.41 L190.80 32.97 L191.30 32.52 L191.80 32.08 L192.30 31.63 L192.80 31.19 L193.30 30.75 L193.80 30.32 L194.30 29.88 L194.80 29.44 L195.30 29.01 L195.80 28.58 L196.30 28.15 L196.80 27.72 L197.30 27.29 L197.80 26.86 L198.30 26.44 L198.80 26.01 L199.30 25.59 L199.80 25.17 L200.30 24.75 L200.80 24.33 L201.30 23.92 L201.80 23.50 L202.30 23.09 L202.80 22.67 L203.30 22.26 L203.80 21.85 L204.30 21.44 L204.80 21.04 L205.30 20.63 L205.80 20.23 L206.30 19.82 L206.80 19.42 L207.30 19.02 L207.80 18.62 L208.30 18.22 L208.80 17.82 L209.30 17.43 L209.80 17.03 L210.30 16.64 L210.80 16.25 L211.30 15.86 L211.80 15.47 L212.30 15.08 L212.80 14.69 L213.30 14.30 L213.80 13.92 L214.30 13.53 L214.80 13.15 L215.30 12.77 L215.80 12.39 L216.30 12.01 L216.80 11.63 L217.30 11.26 L217.80 10.88 L218.30 10.51 L218.80 10.13 L219.30 9.76 L219.80 9.39 L220.30 9.02 L220.80 8.65 L221.30 8.28 L221.80 7.92 L222.30 7.55 L222.80 7.19 L223.30 6.82 L223.80 6.46 L224.30 6.10 L224.80 5.74 L225.30 5.38 L225.80 5.02 L226.30 4.67 L226.80 4.31 L227.30 3.96 L227.80 3.60 L228.30 3.25 L228.80 2.90 L229.30 2.55 L229.80 2.20 L230.30 1.85 L230.66 1.60" stroke="#000000" stroke-width="2.3"/>
<path d="M58.90 200.00 L401.83 200.00" stroke="#ffff00" stroke-width="2.3"/>
</g>
<g>
<text transform="translate(59.10,246.5) scale(0.915,1)" text-anchor="middle" style="font-family:'Liberation Sans',sans-serif;fill:#666;text-rendering:geometricPrecision;font-size:12.4px;letter-spacing:0.15px">0.05</text>
<text transform="translate(181.47,246.5) scale(0.915,1)" text-anchor="middle" style="font-family:'Liberation Sans',sans-serif;fill:#666;text-rendering:geometricPrecision;font-size:12.4px;letter-spacing:0.15px">0.10</text>
<text transform="translate(253.05,246.5) scale(0.915,1)" text-anchor="middle" style="font-family:'Liberation Sans',sans-serif;fill:#666;text-rendering:geometricPrecision;font-size:12.4px;letter-spacing:0.15px">0.15</text>
<text transform="translate(303.84,246.5) scale(0.915,1)" text-anchor="middle" style="font-family:'Liberation Sans',sans-serif;fill:#666;text-rendering:geometricPrecision;font-size:12.4px;letter-spacing:0.15px">0.20</text>
<text transform="translate(343.23,246.5) scale(0.915,1)" text-anchor="middle" style="font-family:'Liberation Sans',sans-serif;fill:#666;text-rendering:geometricPrecision;font-size:12.4px;letter-spacing:0.15px">0.25</text>
<text transform="translate(375.42,246.5) scale(0.915,1)" text-anchor="middle" style="font-family:'Liberation Sans',sans-serif;fill:#666;text-rendering:geometricPrecision;font-size:12.4px;letter-spacing:0.15px">0.30</text>
<text transform="translate(402.63,246.5) scale(0.915,1)" text-anchor="middle" style="font-family:'Liberation Sans',sans-serif;fill:#666;text-rendering:geometricPrecision;font-size:12.4px;letter-spacing:0.15px">0.35</text>
<text transform="translate(47.4,225.50) scale(0.94,1)" text-anchor="end" style="font-family:'Liberation Sans',sans-serif;fill:#666;text-rendering:geometricPrecision;font-size:11.9px">10<tspan dy="-4.6" style="font-size:11.0px">−4</tspan></text>
<text transform="translate(46.9,183.14) scale(0.94,1)" text-anchor="end" style="font-family:'Liberation Sans',sans-serif;fill:#666;text-rendering:geometricPrecision;font-size:11.9px">1</text>
<text transform="translate(47.4,142.53) scale(0.94,1)" text-anchor="end" style="font-family:'Liberation Sans',sans-serif;fill:#666;text-rendering:geometricPrecision;font-size:11.9px">10<tspan dy="-4.6" style="font-size:11.0px">4</tspan></text>
<text transform="translate(47.4,100.57) scale(0.94,1)" text-anchor="end" style="font-family:'Liberation Sans',sans-serif;fill:#666;text-rendering:geometricPrecision;font-size:11.9px">10<tspan dy="-4.6" style="font-size:11.0px">8</tspan></text>
<text transform="translate(47.4,58.36) scale(0.94,1)" text-anchor="end" style="font-family:'Liberation Sans',sans-serif;fill:#666;text-rendering:geometricPrecision;font-size:11.9px">10<tspan dy="-4.6" style="font-size:11.0px">12</tspan></text>
<text transform="translate(47.4,17.10) scale(0.94,1)" text-anchor="end" style="font-family:'Liberation Sans',sans-serif;fill:#666;text-rendering:geometricPrecision;font-size:11.9px">10<tspan dy="-4.6" style="font-size:11.0px">16</tspan></text>
<text x="231" y="270.2" text-anchor="middle" style="font-family:'Liberation Sans',sans-serif;fill:#666;text-rendering:geometricPrecision;font-size:11.8px;font-style:italic">β</text>
<text transform="translate(10.8,118.1) rotate(-90)" text-anchor="middle" style="font-family:'Liberation Sans',sans-serif;fill:#666;text-rendering:geometricPrecision;font-size:11.8px"><tspan style="font-style:italic">T</tspan><tspan dy="3.5" style="font-size:10.4px">re</tspan></text>
</g>
</svg>
</body></html>
